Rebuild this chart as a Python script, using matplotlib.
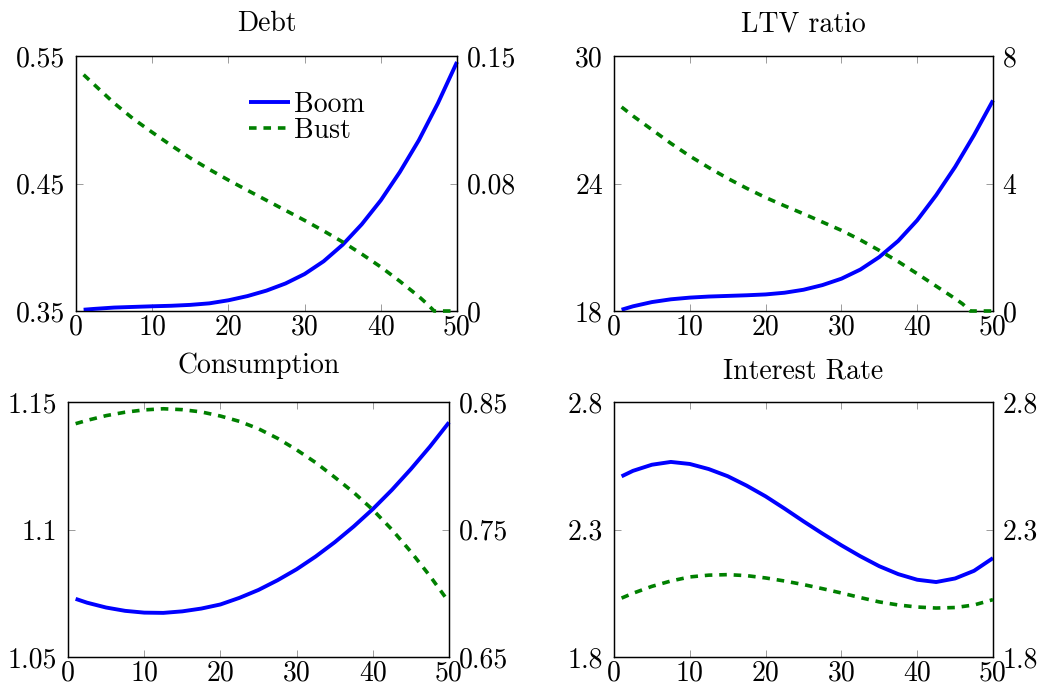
import matplotlib
matplotlib.use("Agg")
import matplotlib.pyplot as plt
from matplotlib.ticker import FixedLocator, FixedFormatter

plt.rcParams['font.family'] = ['cmr10', 'DejaVu Serif']
plt.rcParams['mathtext.fontset'] = 'cm'
plt.rcParams['axes.formatter.use_mathtext'] = True
plt.rcParams['font.size'] = 20

# ---------------- data ----------------
x_fine = [1, 2.5, 5, 7.5, 10, 12.5, 15, 17.5, 20, 22.5, 25, 27.5, 30, 32.5,
          35, 37.5, 40, 42.5, 45, 47.5, 50]
x_bust0 = [1, 2.5, 5, 7.5, 10, 12.5, 15, 17.5, 20, 22.5, 25, 27.5, 30, 32.5,
           35, 37.5, 40, 42.5, 45, 46, 47, 48.5, 50]

debt_boom = [0.3510, 0.3517, 0.3527, 0.3532, 0.3537, 0.3541, 0.3548, 0.3560,
             0.3584, 0.3617, 0.3660, 0.3716, 0.3790, 0.3890, 0.4020, 0.4180,
             0.4368, 0.4590, 0.4840, 0.5130, 0.5453]
debt_bust = [0.1390, 0.1327, 0.1223, 0.1131, 0.1051, 0.0974, 0.0900, 0.0833,
             0.0770, 0.0710, 0.0651, 0.0592, 0.0533, 0.0471, 0.0406, 0.0335,
             0.0259, 0.0175, 0.0085, 0.0045, 0.0, 0.0, 0.0]

ltv_boom = [18.06, 18.22, 18.42, 18.55, 18.63, 18.68, 18.71, 18.74, 18.78,
            18.86, 19.00, 19.22, 19.52, 19.95, 20.54, 21.30, 22.27, 23.45,
            24.78, 26.28, 27.91]
ltv_bust = [6.40, 6.12, 5.69, 5.26, 4.86, 4.50, 4.16, 3.85, 3.56, 3.30, 3.05,
            2.79, 2.53, 2.23, 1.90, 1.55, 1.17, 0.78, 0.39, 0.22, 0.0, 0.0, 0.0]

cons_boom = [1.0728, 1.0713, 1.0694, 1.0681, 1.0674, 1.0673, 1.0679, 1.0690,
             1.0706, 1.0732, 1.0763, 1.0801, 1.0844, 1.0894, 1.0950, 1.1012,
             1.1080, 1.1155, 1.1237, 1.1325, 1.1420]
cons_bust = [0.8330, 0.8356, 0.8393, 0.8420, 0.8438, 0.8447, 0.8440, 0.8422,
             0.8390, 0.8348, 0.8290, 0.8215, 0.8125, 0.8025, 0.7910, 0.7790,
             0.7655, 0.7500, 0.7325, 0.7135, 0.6930]

rate_boom = [2.5085, 2.530, 2.554, 2.565, 2.557, 2.537, 2.509, 2.472, 2.430,
             2.382, 2.332, 2.284, 2.238, 2.195, 2.156, 2.125, 2.103, 2.094,
             2.108, 2.138, 2.188]
rate_bust = [2.031, 2.050, 2.077, 2.098, 2.114, 2.121, 2.123, 2.119, 2.110,
             2.098, 2.084, 2.068, 2.051, 2.033, 2.016, 2.004, 1.996, 1.992,
             1.994, 2.004, 2.025]

titles = ["Debt", "LTV ratio", "Consumption", "Interest Rate"]
left_ticks = [[0.35, 0.45, 0.55], [18, 24, 30], [1.05, 1.10, 1.15], [1.8, 2.3, 2.8]]
left_labels = [["0.35", "0.45", "0.55"], ["18", "24", "30"],
               ["1.05", "1.1", "1.15"], ["1.8", "2.3", "2.8"]]
right_ticks = [[0.0, 0.075, 0.15], [0, 4, 8], [0.65, 0.75, 0.85], [1.8, 2.3, 2.8]]
right_labels = [["0", "0.08", "0.15"], ["0", "4", "8"],
                ["0.65", "0.75", "0.85"], ["1.8", "2.3", "2.8"]]
x_ticks = [0, 10, 20, 30, 40, 50]

boom_series = [(x_fine, debt_boom), (x_fine, ltv_boom), (x_fine, cons_boom), (x_fine, rate_boom)]
bust_series = [(x_bust0, debt_bust), (x_bust0, ltv_bust), (x_fine, cons_bust), (x_fine, rate_bust)]

# ---------------- layout ----------------
W, H = 1045, 691
boxes = [(76, 457, 56, 311), (614, 993, 56, 311),
         (68, 449, 402, 657), (614, 993, 402, 657)]
title_pads = [18, 18, 21, 17]

fig = plt.figure(figsize=(W / 100, H / 100), dpi=100)

BLUE = '#0000ff'
GREEN = '#008000'
TICKC = '#8c8c8c'

for i in range(4):
    x0, x1, y0, y1 = boxes[i]
    ax = fig.add_axes([x0 / W, 1 - y1 / H, (x1 - x0) / W, (y1 - y0) / H])
    ax2 = ax.twinx()

    bx, by = boom_series[i]
    gx, gy = bust_series[i]
    lb, = ax.plot(bx, by, color=BLUE, lw=2.8, solid_capstyle='butt',
                  solid_joinstyle='round', clip_on=False, zorder=3)
    lg, = ax2.plot(gx, gy, color=GREEN, lw=2.6, dashes=(2.1, 1.9),
                   dash_joinstyle='round', clip_on=False, zorder=3)

    ax.set_xlim(0, 50)
    ax.set_ylim(left_ticks[i][0], left_ticks[i][-1])
    ax2.set_ylim(right_ticks[i][0], right_ticks[i][-1])

    ax.xaxis.set_major_locator(FixedLocator(x_ticks))
    ax.xaxis.set_major_formatter(FixedFormatter([str(t) for t in x_ticks]))
    ax.yaxis.set_major_locator(FixedLocator(left_ticks[i]))
    ax.yaxis.set_major_formatter(FixedFormatter(left_labels[i]))
    ax2.yaxis.set_major_locator(FixedLocator(right_ticks[i]))
    ax2.yaxis.set_major_formatter(FixedFormatter(right_labels[i]))

    ax.tick_params(axis='x', which='both', direction='in', top=True, bottom=True,
                   length=5, width=0.6, color=TICKC, pad=2, labelsize=20)
    ax.tick_params(axis='y', direction='in', left=True, right=False,
                   length=5, width=0.6, color=TICKC, pad=8, labelsize=20)
    ax2.tick_params(axis='y', direction='in', right=True, left=False,
                    length=5, width=0.6, color=TICKC, pad=7, labelsize=20)

    for sp in list(ax.spines.values()) + list(ax2.spines.values()):
        sp.set_linewidth(0.9)
        sp.set_color('black')

    ax.set_title(titles[i], fontsize=20, pad=title_pads[i])

    if i == 0:
        ax2.legend([lb, lg], ["Boom", "Bust"], loc='upper left',
                   bbox_to_anchor=(0.455, 0.862), frameon=False, fontsize=20,
                   handlelength=1.45, handletextpad=0.15, labelspacing=0.0,
                   borderpad=0, borderaxespad=0)

fig.savefig("out.png", dpi=100)
